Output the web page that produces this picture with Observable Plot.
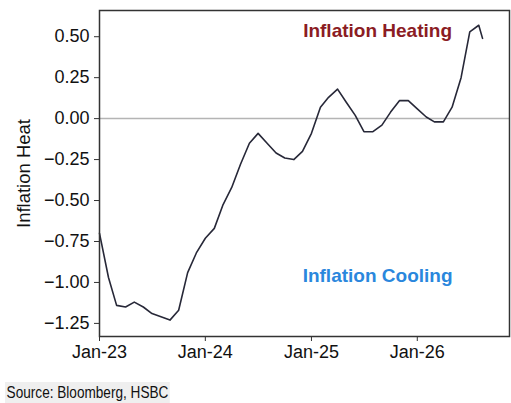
<!DOCTYPE html>
<html>
<head>
<meta charset="utf-8">
<script src="https://cdn.jsdelivr.net/npm/d3@7"></script>
<script src="https://cdn.jsdelivr.net/npm/@observablehq/plot@0.6"></script>
<style>
  html, body { margin: 0; padding: 0; background: #fff; overflow: hidden; }
  #chart svg { display: block; }
  .srcwrap { height: 23px; margin-left: 5px; margin-top: 2px; }
  .src { font-family: "Liberation Sans", Arial, sans-serif;
         font-size: 17px; color: #111; background: #efefef; display: inline-block;
         padding: 0 2px; line-height: 21px; transform: scaleX(0.8); transform-origin: left top; }
</style>
</head>
<body>
<div id="chart"></div>
<div class="srcwrap"><span class="src">Source: Bloomberg, HSBC</span></div>
<script>
const dates = [
  "2023-01-01","2023-02-01","2023-03-01","2023-04-01","2023-05-01","2023-06-01",
  "2023-07-01","2023-08-01","2023-09-01","2023-10-01","2023-11-01","2023-12-01",
  "2024-01-01","2024-02-01","2024-03-01","2024-04-01","2024-05-01","2024-06-01",
  "2024-07-01","2024-08-01","2024-09-01","2024-10-01","2024-11-01","2024-12-01",
  "2025-01-01","2025-02-01","2025-03-01","2025-04-01","2025-05-01","2025-06-01",
  "2025-07-01","2025-08-01","2025-09-01","2025-10-01","2025-11-01","2025-12-01",
  "2026-01-01","2026-02-01","2026-03-01","2026-04-01","2026-05-01","2026-06-01",
  "2026-07-01","2026-08-01","2026-08-14"
];
const heat = [
  -0.70, -0.97, -1.14, -1.15, -1.12, -1.15,
  -1.19, -1.21, -1.23, -1.17, -0.94, -0.82,
  -0.73, -0.67, -0.53, -0.42, -0.28, -0.15,
  -0.09, -0.15, -0.21, -0.24, -0.25, -0.20,
  -0.09, 0.07, 0.13, 0.18, 0.10, 0.02,
  -0.08, -0.08, -0.04, 0.04, 0.11, 0.11,
  0.06, 0.01, -0.02, -0.02, 0.07, 0.25,
  0.53, 0.57, 0.49
];
const yTicks = [-1.25, -1.00, -0.75, -0.50, -0.25, 0.00, 0.25, 0.50];
const xTicks = ["2023-01-01", "2024-01-01", "2025-01-01", "2026-01-01"];
const xDomain = ["2023-01-01", "2026-11-15"];
const yDomain = [-1.33, 0.66];
const yLabel = "Inflation Heat";
const labels = [
  {text: "Inflation Heating", date: "2025-08-17", value: 0.535, color: "#8b1c24"},
  {text: "Inflation Cooling", date: "2025-08-17", value: -0.96, color: "#2a87dd"}
];

const parse = d3.utcParse("%Y-%m-%d");
const data = dates.map((d, i) => ({date: parse(d), value: heat[i]}));
const labelData = labels.map(l => ({...l, date: parse(l.date)}));

const chart = Plot.plot({
  width: 511,
  height: 380,
  marginLeft: 99,
  marginRight: 2,
  marginTop: 10,
  marginBottom: 44,
  style: {fontFamily: "'Liberation Sans', Arial, sans-serif", fontSize: "18px", color: "#111", background: "#fff"},
  x: {type: "utc", domain: xDomain.map(parse)},
  y: {domain: yDomain},
  marks: [
    Plot.ruleY([0], {stroke: "#b4b4b4", strokeWidth: 1.5}),
    Plot.line(data, {x: "date", y: "value", stroke: "#272838", strokeWidth: 1.6}),
    Plot.text(labelData, {x: "date", y: "value", text: "text", fill: "color",
      fontWeight: "bold", fontSize: 19, textAnchor: "middle"}),
    Plot.axisX({ticks: xTicks.map(parse), tickFormat: d3.utcFormat("%b-%y"),
      tickSize: 5, tickPadding: 4, stroke: "#333", fontSize: 18, label: null}),
    Plot.axisY({ticks: yTicks, tickFormat: d3.format(".2f"), tickSize: 5, tickPadding: 5,
      stroke: "#333", fontSize: 18, label: null}),
    Plot.text([yLabel], {frameAnchor: "left", rotate: -90, dx: -75, dy: 0,
      textAnchor: "middle", fontSize: 18.5, fill: "#111"}),
    Plot.frame({stroke: "#333", strokeWidth: 1.5})
  ]
});
document.getElementById("chart").appendChild(chart);
</script>
</body>
</html>
